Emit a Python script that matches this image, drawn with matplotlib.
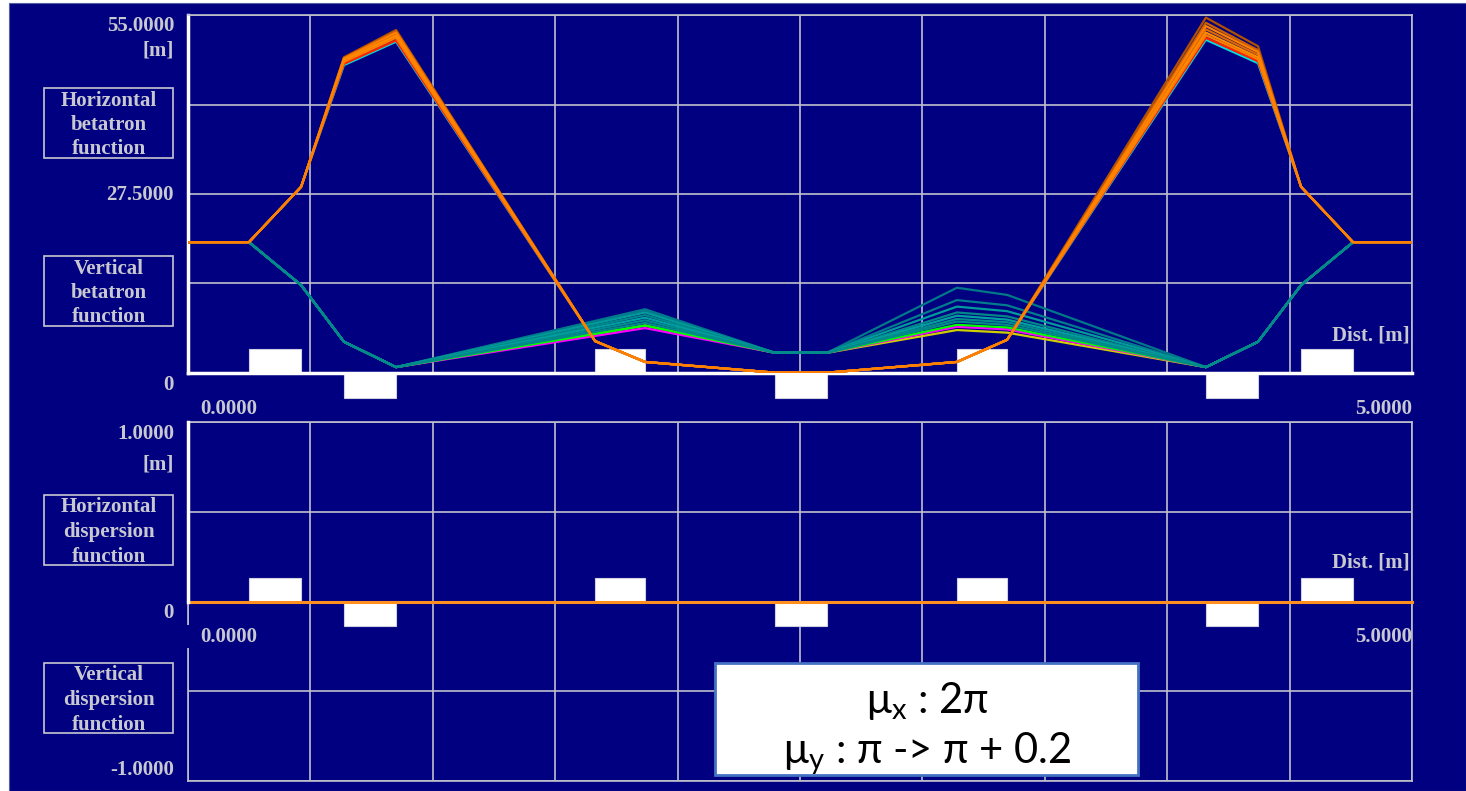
import matplotlib
matplotlib.use("Agg")
import matplotlib.pyplot as plt
from matplotlib.patches import Rectangle
import numpy as np

plt.rcParams['mathtext.fontset'] = 'custom'
plt.rcParams['mathtext.rm'] = 'Lato'
plt.rcParams['mathtext.it'] = 'Lato'

# ---------------- data ----------------
# element-boundary positions [m]
x_h = [0.0, 0.249, 0.462, 0.637, 0.850, 1.663, 1.867, 2.398, 2.610, 3.141, 3.346, 4.158, 4.371, 4.547, 4.759, 5.0]
x_v = [0.0, 0.249, 0.462, 0.637, 0.850, 1.867, 2.398, 2.610, 3.141, 3.346, 4.158, 4.371, 4.547, 4.759, 5.0]

# horizontal betatron function family [m] (drawn in this order)
beta_x_series = [
    [20.1, 20.1, 28.6, 48.5, 52.7, 4.9, 1.7, 0.05, 0.05, 1.7, 5.1, 54.6, 50.2, 28.6, 20.1, 20.1],
    [20.1, 20.1, 28.6, 48.4, 52.5, 4.9, 1.7, 0.05, 0.05, 1.7, 5.1, 53.8, 49.6, 28.6, 20.1, 20.1],
    [20.1, 20.1, 28.6, 48.1, 52.0, 4.9, 1.7, 0.05, 0.05, 1.7, 5.1, 52.8, 48.9, 28.6, 20.1, 20.1],
    [20.1, 20.1, 28.6, 47.3, 50.9, 4.9, 1.7, 0.05, 0.05, 1.7, 5.1, 51.2, 47.6, 28.6, 20.1, 20.1],
    [20.1, 20.1, 28.6, 47.5, 51.1, 4.9, 1.7, 0.05, 0.05, 1.7, 5.1, 51.5, 47.9, 28.6, 20.1, 20.1],
    [20.1, 20.1, 28.6, 48.3, 52.3, 4.9, 1.7, 0.05, 0.05, 1.7, 5.1, 53.3, 49.3, 28.6, 20.1, 20.1],
    [20.1, 20.1, 28.6, 48.0, 51.8, 4.9, 1.7, 0.05, 0.05, 1.7, 5.1, 52.3, 48.5, 28.6, 20.1, 20.1],
    [20.1, 20.1, 28.6, 47.8, 51.5, 4.9, 1.7, 0.05, 0.05, 1.7, 5.1, 51.9, 48.2, 28.6, 20.1, 20.1],
]
beta_x_colors = ['#b05000', '#d06000', '#e06800', '#00e0e0', '#ff2000', '#ff8000', '#ff8c00', '#ff7f00']

# vertical betatron function family [m] (drawn in this order)
beta_y_series = [
    [20.1, 20.1, 13.5, 4.8, 0.9, 7.3, 3.1, 3.1, 6.6, 6.2, 0.9, 4.8, 13.5, 20.1, 20.1],
    [20.1, 20.1, 13.5, 4.8, 0.9, 6.9, 3.1, 3.1, 7.1, 6.7, 0.9, 4.8, 13.5, 20.1, 20.1],
    [20.1, 20.1, 13.5, 4.8, 0.9, 7.3, 3.1, 3.1, 7.4, 7.0, 0.9, 4.8, 13.5, 20.1, 20.1],
    [20.1, 20.1, 13.5, 4.8, 0.9, 9.8, 3.1, 3.1, 13.1, 12.0, 0.9, 4.8, 13.5, 20.1, 20.1],
    [20.1, 20.1, 13.5, 4.8, 0.9, 9.6, 3.1, 3.1, 11.2, 10.4, 0.9, 4.8, 13.5, 20.1, 20.1],
    [20.1, 20.1, 13.5, 4.8, 0.9, 9.3, 3.1, 3.1, 10.2, 9.5, 0.9, 4.8, 13.5, 20.1, 20.1],
    [20.1, 20.1, 13.5, 4.8, 0.9, 8.9, 3.1, 3.1, 9.3, 8.7, 0.9, 4.8, 13.5, 20.1, 20.1],
    [20.1, 20.1, 13.5, 4.8, 0.9, 8.5, 3.1, 3.1, 8.8, 8.2, 0.9, 4.8, 13.5, 20.1, 20.1],
    [20.1, 20.1, 13.5, 4.8, 0.9, 8.1, 3.1, 3.1, 8.3, 7.8, 0.9, 4.8, 13.5, 20.1, 20.1],
    [20.1, 20.1, 13.5, 4.8, 0.9, 7.7, 3.1, 3.1, 7.9, 7.4, 0.9, 4.8, 13.5, 20.1, 20.1],
]
beta_y_colors = ['#d0d000', '#ff00ff', '#00ff00', '#007888', '#007c8c', '#009c9c',
                 '#008888', '#00a0a0', '#008c8c', '#008a8a']

# dispersion (zero everywhere)
x_d = [0.0, 5.0]
disp_x = [0.0, 0.0]

# magnets: (start, end) in m ; focusing above axis, defocusing below
quad_up = [(0.249, 0.462), (1.663, 1.867), (3.141, 3.346), (4.547, 4.759)]
quad_down = [(0.637, 0.850), (2.398, 2.610), (4.158, 4.371)]

# ---------------- styling ----------------
W, H = 1466, 791
NAVY = '#000080'
GRID = '#c0c0cc'
TXT = '#c8c8d0'
SERIF = 'Liberation Serif'

def fx(px):
    return px / W

def fy(py):
    return 1 - py / H

fig = plt.figure(figsize=(W / 100, H / 100), dpi=100, facecolor='white')
fig.add_artist(Rectangle((fx(9), 0), 1 - fx(9), fy(3), transform=fig.transFigure,
                         facecolor=NAVY, edgecolor='#5060a0', lw=0.8, zorder=-10))

ax1 = fig.add_axes([fx(188), fy(373), 1224 / W, 358 / H])
ax2 = fig.add_axes([fx(188), fy(781), 1224 / W, 359 / H])

for ax in (ax1, ax2):
    ax.set_facecolor(NAVY)
    ax.set_xlim(0, 5)
    ax.set_xticks(np.arange(0, 5.01, 0.5))
    ax.tick_params(length=0, labelbottom=False, labelleft=False)
    ax.grid(True, color=GRID, lw=1.2)
    ax.set_axisbelow(True)
    for s in ax.spines.values():
        s.set_color(GRID)
        s.set_linewidth(1.2)

ax1.set_ylim(0, 55)
ax1.set_yticks([0, 13.75, 27.5, 41.25, 55])
ax1.spines['left'].set_color('white')
ax1.spines['left'].set_linewidth(2.5)
ax1.spines['bottom'].set_color('white')
ax1.spines['bottom'].set_linewidth(2.5)

ax2.set_ylim(-1, 1)
ax2.set_yticks([-1, -0.5, 0, 0.5, 1])
ax2.plot([0, 0], [0, 1], color='white', lw=2.5, clip_on=False, zorder=5)

# curves
for ys, c in zip(beta_y_series, beta_y_colors):
    ax1.plot(x_v, ys, color=c, lw=1.6, zorder=3)
for ys, c in zip(beta_x_series, beta_x_colors):
    ax1.plot(x_h, ys, color=c, lw=1.6, zorder=4)

ax2.plot(x_d, disp_x, color='#ff9020', lw=2.2, zorder=4, clip_on=False)

# magnets
h1 = 24 * 55 / 358
h2 = 24 * 2 / 359
for a, b in quad_up:
    ax1.add_patch(Rectangle((a, 0), b - a, h1, facecolor='white', edgecolor='#d0d0e0', lw=0.8, zorder=2))
    ax2.add_patch(Rectangle((a, 0), b - a, h2, facecolor='white', edgecolor='#d0d0e0', lw=0.8, zorder=2))
for a, b in quad_down:
    ax1.add_patch(Rectangle((a, 0), b - a, -h1 * 25 / 24, facecolor='white', edgecolor='#d0d0e0',
                            lw=0.8, zorder=2, clip_on=False))
    ax2.add_patch(Rectangle((a, 0), b - a, -h2, facecolor='white', edgecolor='#d0d0e0', lw=0.8,
                            zorder=2, clip_on=False))

# ---------------- texts ----------------
tk = dict(color=TXT, family=SERIF, weight='bold', fontsize=15)

def t(x, y, s, ha='right', **kw):
    d = dict(tk)
    d.update(kw)
    fig.text(fx(x), fy(y), s, ha=ha, va='center', **d)

# top panel
t(174, 26, '55.0000')
t(174, 50, '[m]')
t(174, 195, '27.5000')
t(174, 385, '0')
t(200, 409, '0.0000', ha='left')
t(1412, 409, '5.0000')
t(1410, 335, 'Dist. [m]')
# bottom panel
t(174, 434, '1.0000')
t(174, 464, '[m]')
t(174, 613, '0')
t(200, 637, '0.0000', ha='left')
t(1412, 637, '5.0000')
t(1410, 562, 'Dist. [m]')
t(174, 770, '-1.0000')

# small gap in the bottom-panel left edge near the 0.0000 label
fig.add_artist(Rectangle((fx(186), fy(648)), fx(6), 23 / H, transform=fig.transFigure,
                         facecolor=NAVY, edgecolor='none', zorder=20))

def box(y0, y1, s):
    fig.add_artist(Rectangle((fx(44), fy(y1)), fx(173) - fx(44), (y1 - y0) / H,
                             transform=fig.transFigure, facecolor='none',
                             edgecolor=TXT, lw=1.2))
    fig.text(fx(108.5), fy((y0 + y1) / 2 + 2), s, ha='center', va='center',
             linespacing=1.3, **tk)

box(88, 158, 'Horizontal\nbetatron\nfunction')
box(256, 326, 'Vertical\nbetatron\nfunction')
box(495, 565, 'Horizontal\ndispersion\nfunction')
box(663, 733, 'Vertical\ndispersion\nfunction')

# annotation box
fig.add_artist(Rectangle((fx(715), fy(775)), (1138 - 715) / W, (775 - 663) / H,
                         transform=fig.transFigure, facecolor='white',
                         edgecolor='#4472c4', lw=2, zorder=30))
fig.text(fx(927), fy(701), 'μ$_\\mathrm{x}$ : 2π', ha='center', va='center',
         family='Lato', fontsize=30, color='black', zorder=31)
fig.text(fx(927), fy(754), 'μ$_\\mathrm{y}$ : π -> π + 0.2', ha='center', va='center',
         family='Lato', fontsize=30, color='black', zorder=31)

fig.savefig('out.png', dpi=100, facecolor=fig.get_facecolor())
